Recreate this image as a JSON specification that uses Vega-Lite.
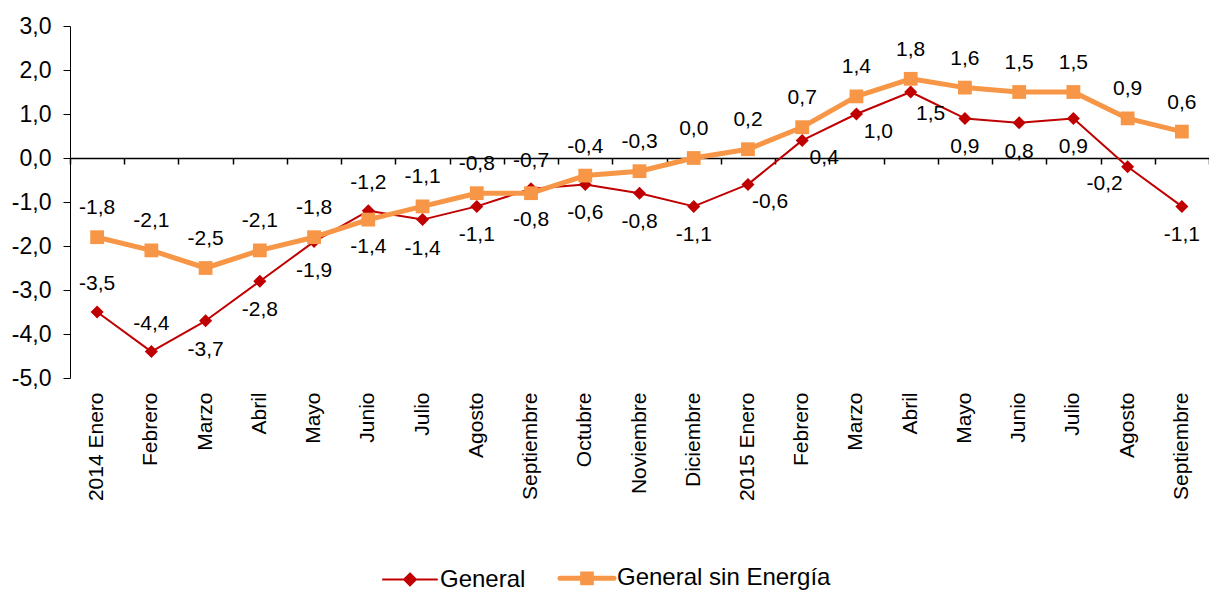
{
  "$schema": "https://vega.github.io/schema/vega-lite/v6.json",
  "width": 1139,
  "height": 352,
  "autosize": {"type": "none"},
  "padding": {"left": 70, "top": 26, "right": 0, "bottom": 212},
  "config": {
    "view": {"stroke": null},
    "font": "Liberation Sans",
    "locale": {"number": {"decimal": ",", "thousands": ".", "grouping": [3], "currency": ["", " €"], "minus": "-"}},
    "text": {"font": "Liberation Sans", "fontSize": 21, "color": "#000000"}
  },
  "resolve": {"axis": {"x": "independent"}},
  "data": {
    "values": [
      {"periodo": "2014-01", "serie": "General", "valor": -3.5},
      {"periodo": "2014-02", "serie": "General", "valor": -4.4},
      {"periodo": "2014-03", "serie": "General", "valor": -3.7},
      {"periodo": "2014-04", "serie": "General", "valor": -2.8},
      {"periodo": "2014-05", "serie": "General", "valor": -1.9},
      {"periodo": "2014-06", "serie": "General", "valor": -1.2},
      {"periodo": "2014-07", "serie": "General", "valor": -1.4},
      {"periodo": "2014-08", "serie": "General", "valor": -1.1},
      {"periodo": "2014-09", "serie": "General", "valor": -0.7},
      {"periodo": "2014-10", "serie": "General", "valor": -0.6},
      {"periodo": "2014-11", "serie": "General", "valor": -0.8},
      {"periodo": "2014-12", "serie": "General", "valor": -1.1},
      {"periodo": "2015-01", "serie": "General", "valor": -0.6},
      {"periodo": "2015-02", "serie": "General", "valor": 0.4},
      {"periodo": "2015-03", "serie": "General", "valor": 1.0},
      {"periodo": "2015-04", "serie": "General", "valor": 1.5},
      {"periodo": "2015-05", "serie": "General", "valor": 0.9},
      {"periodo": "2015-06", "serie": "General", "valor": 0.8},
      {"periodo": "2015-07", "serie": "General", "valor": 0.9},
      {"periodo": "2015-08", "serie": "General", "valor": -0.2},
      {"periodo": "2015-09", "serie": "General", "valor": -1.1},
      {"periodo": "2014-01", "serie": "General sin Energía", "valor": -1.8},
      {"periodo": "2014-02", "serie": "General sin Energía", "valor": -2.1},
      {"periodo": "2014-03", "serie": "General sin Energía", "valor": -2.5},
      {"periodo": "2014-04", "serie": "General sin Energía", "valor": -2.1},
      {"periodo": "2014-05", "serie": "General sin Energía", "valor": -1.8},
      {"periodo": "2014-06", "serie": "General sin Energía", "valor": -1.4},
      {"periodo": "2014-07", "serie": "General sin Energía", "valor": -1.1},
      {"periodo": "2014-08", "serie": "General sin Energía", "valor": -0.8},
      {"periodo": "2014-09", "serie": "General sin Energía", "valor": -0.8},
      {"periodo": "2014-10", "serie": "General sin Energía", "valor": -0.4},
      {"periodo": "2014-11", "serie": "General sin Energía", "valor": -0.3},
      {"periodo": "2014-12", "serie": "General sin Energía", "valor": 0.0},
      {"periodo": "2015-01", "serie": "General sin Energía", "valor": 0.2},
      {"periodo": "2015-02", "serie": "General sin Energía", "valor": 0.7},
      {"periodo": "2015-03", "serie": "General sin Energía", "valor": 1.4},
      {"periodo": "2015-04", "serie": "General sin Energía", "valor": 1.8},
      {"periodo": "2015-05", "serie": "General sin Energía", "valor": 1.6},
      {"periodo": "2015-06", "serie": "General sin Energía", "valor": 1.5},
      {"periodo": "2015-07", "serie": "General sin Energía", "valor": 1.5},
      {"periodo": "2015-08", "serie": "General sin Energía", "valor": 0.9},
      {"periodo": "2015-09", "serie": "General sin Energía", "valor": 0.6}
    ]
  },
  "layer": [
    {
      "transform": [{"filter": {"field": "serie", "equal": "General"}}],
      "mark": {"type": "line", "strokeWidth": 2, "strokeJoin": "round"},
      "encoding": {
        "x": {
          "field": "periodo", "type": "nominal",
          "scale": {"type": "band", "paddingInner": 0, "paddingOuter": 0},
          "axis": {
            "orient": "bottom", "title": null, "domain": false, "ticks": false,
            "labelAngle": -90, "labelFontSize": 21, "labelColor": "#000000", "labelPadding": 14,
            "labelFont": "Liberation Sans",
            "labelExpr": "(substring(datum.value,5,7)=='01' ? substring(datum.value,0,4)+' ' : '') + ['Enero','Febrero','Marzo','Abril','Mayo','Junio','Julio','Agosto','Septiembre','Octubre','Noviembre','Diciembre'][toNumber(substring(datum.value,5,7))-1]"
          }
        },
        "y": {
          "field": "valor", "type": "quantitative",
          "scale": {"domain": [-5, 3], "nice": false, "zero": false},
          "axis": {
            "orient": "left", "title": null, "grid": false, "values": [-5, -4, -3, -2, -1, 0, 1, 2, 3], "format": ".1f",
            "domain": true, "domainColor": "#000000", "domainWidth": 1, "ticks": true, "tickColor": "#000000", "tickSize": 7,
            "labels": true, "labelFontSize": 23, "labelColor": "#000000", "labelPadding": 12, "labelFont": "Liberation Sans"
          }
        },
        "color": {
          "field": "serie", "type": "nominal",
          "scale": {"domain": ["General", "General sin Energía"], "range": ["#C00000", "#F79646"]},
          "legend": {
            "orient": "none", "legendX": 328, "legendY": 540, "direction": "horizontal",
            "title": null, "labelFontSize": 24, "labelFont": "Liberation Sans", "labelColor": "#000000", "labelLimit": 0,
            "symbolSize": 2916, "labelOffset": 18, "columnPadding": 24,
            "encode": {
              "symbols": {
                "update": {
                  "shape": {"signal": "datum.value == 'General' ? 'M-1,0L1,0M0,-0.22L0.22,0L0,0.22L-0.22,0Z' : 'M-1,0L1,0M-0.16,-0.16L0.16,-0.16L0.16,0.16L-0.16,0.16Z'"},
                  "fill": {"signal": "datum.value == 'General' ? '#C00000' : '#F79646'"},
                  "stroke": {"signal": "datum.value == 'General' ? '#C00000' : '#F79646'"},
                  "strokeWidth": {"signal": "datum.value == 'General' ? 2 : 5"},
                  "strokeCap": {"value": "round"},
                  "opacity": {"value": 1}
                }
              }
            }
          }
        }
      }
    },
    {
      "transform": [{"filter": {"field": "serie", "equal": "General"}}],
      "mark": {"type": "point", "filled": true, "shape": "diamond", "size": 170, "opacity": 1},
      "encoding": {
        "x": {
          "field": "periodo", "type": "nominal",
          "axis": {
            "orient": "bottom", "offset": {"expr": "scale('y', 0) - height"}, "title": null, "labels": false,
            "domain": true, "domainColor": "#000000", "domainWidth": 1.5,
            "ticks": true, "tickBand": "extent", "tickSize": 6, "tickColor": "#000000", "tickWidth": 1.5, "tickOpacity": 1
          }
        },
        "y": {"field": "valor", "type": "quantitative"},
        "color": {"field": "serie", "type": "nominal"}
      }
    },
    {
      "transform": [{"filter": {"field": "serie", "equal": "General sin Energía"}}],
      "mark": {"type": "line", "strokeWidth": 5, "strokeJoin": "round"},
      "encoding": {
        "x": {"field": "periodo", "type": "nominal", "axis": null},
        "y": {"field": "valor", "type": "quantitative"},
        "color": {"field": "serie", "type": "nominal"}
      }
    },
    {
      "transform": [{"filter": {"field": "serie", "equal": "General sin Energía"}}],
      "mark": {"type": "point", "filled": true, "shape": "square", "size": 190, "opacity": 1},
      "encoding": {
        "x": {"field": "periodo", "type": "nominal", "axis": null},
        "y": {"field": "valor", "type": "quantitative"},
        "color": {"field": "serie", "type": "nominal"}
      }
    },
    {
      "transform": [{"filter": {"and": [{"field": "serie", "equal": "General sin Energía"}, {"not": {"field": "periodo", "oneOf": ["2014-06", "2014-09"]}}]}}],
      "mark": {"type": "text", "dy": -29},
      "encoding": {
        "x": {"field": "periodo", "type": "nominal", "axis": null},
        "y": {"field": "valor", "type": "quantitative"},
        "text": {"field": "valor", "type": "quantitative", "format": ".1f"}
      }
    },
    {
      "transform": [{"filter": {"and": [{"field": "serie", "equal": "General sin Energía"}, {"field": "periodo", "oneOf": ["2014-06", "2014-09"]}]}}],
      "mark": {"type": "text", "dy": 27},
      "encoding": {
        "x": {"field": "periodo", "type": "nominal", "axis": null},
        "y": {"field": "valor", "type": "quantitative"},
        "text": {"field": "valor", "type": "quantitative", "format": ".1f"}
      }
    },
    {
      "transform": [{"filter": {"and": [{"field": "serie", "equal": "General"}, {"field": "periodo", "oneOf": ["2014-01", "2014-02", "2014-06", "2014-09"]}]}}],
      "mark": {"type": "text", "dy": -28},
      "encoding": {
        "x": {"field": "periodo", "type": "nominal", "axis": null},
        "y": {"field": "valor", "type": "quantitative"},
        "text": {"field": "valor", "type": "quantitative", "format": ".1f"}
      }
    },
    {
      "transform": [{"filter": {"and": [{"field": "serie", "equal": "General"}, {"not": {"field": "periodo", "oneOf": ["2014-01", "2014-02", "2014-06", "2014-09", "2015-01", "2015-02", "2015-03", "2015-04", "2015-08"]}}]}}],
      "mark": {"type": "text", "dy": 29},
      "encoding": {
        "x": {"field": "periodo", "type": "nominal", "axis": null},
        "y": {"field": "valor", "type": "quantitative"},
        "text": {"field": "valor", "type": "quantitative", "format": ".1f"}
      }
    },
    {
      "transform": [{"filter": {"and": [{"field": "serie", "equal": "General"}, {"field": "periodo", "oneOf": ["2015-01", "2015-02", "2015-03"]}]}}],
      "mark": {"type": "text", "dx": 22, "dy": 18},
      "encoding": {
        "x": {"field": "periodo", "type": "nominal", "axis": null},
        "y": {"field": "valor", "type": "quantitative"},
        "text": {"field": "valor", "type": "quantitative", "format": ".1f"}
      }
    },
    {
      "transform": [{"filter": {"and": [{"field": "serie", "equal": "General"}, {"field": "periodo", "oneOf": ["2015-04"]}]}}],
      "mark": {"type": "text", "dx": 20, "dy": 22},
      "encoding": {
        "x": {"field": "periodo", "type": "nominal", "axis": null},
        "y": {"field": "valor", "type": "quantitative"},
        "text": {"field": "valor", "type": "quantitative", "format": ".1f"}
      }
    },
    {
      "transform": [{"filter": {"and": [{"field": "serie", "equal": "General"}, {"field": "periodo", "oneOf": ["2015-08"]}]}}],
      "mark": {"type": "text", "dx": -23, "dy": 17},
      "encoding": {
        "x": {"field": "periodo", "type": "nominal", "axis": null},
        "y": {"field": "valor", "type": "quantitative"},
        "text": {"field": "valor", "type": "quantitative", "format": ".1f"}
      }
    }
  ]
}
